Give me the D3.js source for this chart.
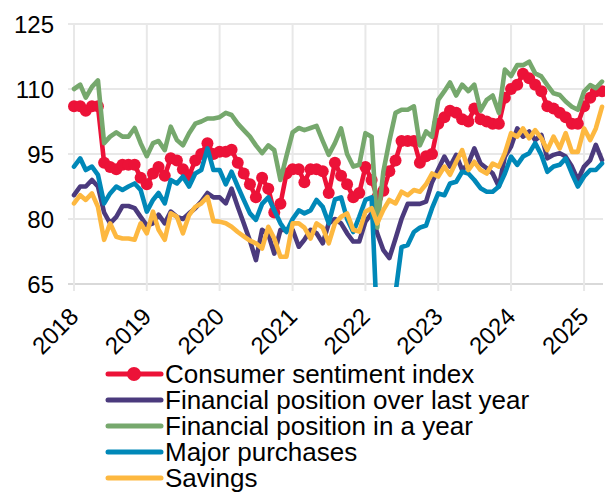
<!DOCTYPE html>
<html><head><meta charset="utf-8">
<script src="https://cdn.jsdelivr.net/npm/d3@7"></script>
<style>
body{margin:0;background:#fff}
svg text{font-family:"Liberation Sans",Arial,sans-serif;fill:#000}
</style>
</head><body>
<svg id="chart" width="605" height="492"></svg>
<script>
// Monthly data, Jan 2018 – Apr 2025
const seriesNames = ["Consumer sentiment index","Financial position over last year","Financial position in a year","Major purchases","Savings"];
const seriesColors = ["#ec1238","#4b3a7d","#76a86d","#0088b8","#fdb840"];
const csi = [106,106,105,106,106,93,92,91.5,92.5,92.5,92.5,89.5,
  88,90.5,92,90,94,93.5,91.5,90,93.5,95,97.5,95,
  95.5,95.5,96,93,90.5,88,85,89.5,87,81.5,83.5,90.5,
  91.5,91.5,88.5,91.5,91.5,91,86,93,90,88,85,86,
  92,89,85,86.5,91,93.5,98,98,98,93,94.5,95,
  102,103.5,105,104.5,103,102.5,105.5,103,102.5,102,102,108,
  110,111,113.5,112.5,111,109.5,106,105.5,104.5,103.5,102,102,
  106,108,109.5,109.5];
const finLast = [85.5,87.5,87.5,89,87.5,81.5,79,80.5,83,83,82.5,80.5,
  78.5,79,81,79,81.7,80.5,80,81.3,82.5,84,86,85,
  85,83.6,87,82.8,79,75,70.5,77.5,76.5,72,77.5,77.5,
  77.5,73.6,75.2,77.5,76.7,74.4,79,80,79,76.7,74.8,74.8,
  79.4,81.3,76.7,72.8,71,75.5,80,83.5,83.5,83.5,84,88.5,
  91.5,94.4,92.1,94.8,91.3,92.8,96.3,92.8,91.7,90.5,87.5,94.4,
  96.7,100.9,99,100.2,98.2,99.4,94,94.8,95.2,94.4,92.1,89,
  92.1,93.6,97.1,93.6];
const finNext = [110,111,108,110.5,112,97.5,99,100,99,99,101,97.5,
  94.5,97.5,98,95.9,101.3,98.2,97,99.8,102,102.5,103.2,103.2,
  103.5,104.5,104,102,100.5,99,97,95.2,97,95.9,89,94.5,
  100,101,100.5,101,101.5,98,94.8,97.5,100.9,95,92.1,92.5,
  99.8,99,78,91,98,104.5,105.2,105.2,106,97,100.2,99,
  107.5,109.5,111.5,108.5,111,109.5,111,105,107.5,108.5,104.5,114.5,
  113,115.5,115.5,116.3,113.6,112.9,110.9,109,108.6,107.1,105.9,105.2,
  109.4,110.9,110.2,111.7];
const majorPurch = [92.1,94,91.3,92.1,90.2,83.6,85.9,87.5,86.7,87.5,88.2,86.7,
  81.7,84.4,86,83.6,89,88.2,89.8,87.5,90.5,91.3,96.3,91.3,
  91.3,88,90.9,87.5,84.4,81.3,79.8,83.5,85,82,79,77,
  80,82,81.3,82,84.4,82.8,79,84.5,85,80,77,80.5,
  84.4,85,55,52,56,63,73.5,74,77,78,78.5,82.5,
  85.9,85.5,88.2,88.6,90.9,90.5,89,87.1,86.3,86.3,87.5,90.5,
  94.4,92.5,94.4,95.2,97.5,94.8,90.9,92.1,92.5,94,90.5,87.5,
  89.8,91.3,91.3,92.8];
const savings = [83.6,85.5,84.4,85.9,82.8,75.2,79,75.9,75.5,75.5,75.2,79,
  76.7,81.7,77.5,75.2,81.3,80.5,76.7,80.9,82.8,83.6,85.1,79.5,
  79.4,79,78.2,77,76,75,74.4,73.2,78.2,75.5,71.3,71.3,
  79,79,78,75.5,79,78,74.4,79,80.5,81.3,77.5,77.1,
  81.7,82.5,79,82.1,84.4,83.6,86.3,85.5,86.7,86.3,88,90.5,
  89.8,92.1,90.2,93.2,95.9,91.3,93.2,91.3,90.5,92.8,92.1,95.2,
  99.8,99,100.9,98.6,100.5,98.6,95.9,99,96.3,99.8,95.5,95.5,
  100.9,98.2,100.9,105.9];
const yTicks = [65,80,95,110,125];
const xTickYears = [2018,2019,2020,2021,2022,2023,2024,2025];

const allSeries = [csi, finLast, finNext, majorPurch, savings];
const dates = csi.map((d,i)=>new Date(2018, i, 1));

const svg = d3.select("#chart");
const x = d3.scaleTime().domain([new Date(2018,0,1), new Date(2025,3,1)]).range([74,602]);
const y = d3.scaleLinear().domain([65,125]).range([284,24]);

// grid
const grid = svg.append("g");
grid.selectAll("line.h").data(yTicks).join("line")
  .attr("x1",68).attr("x2",603).attr("y1",d=>y(d)).attr("y2",d=>y(d))
  .attr("stroke",d=>d===65?"#d9d9d9":"#e8e8e8").attr("stroke-width",2);
grid.selectAll("line.v").data(xTickYears).join("line")
  .attr("x1",d=>x(new Date(d,0,1))).attr("x2",d=>x(new Date(d,0,1)))
  .attr("y1",24).attr("y2",291)
  .attr("stroke","#e8e8e8").attr("stroke-width",2);

// y labels
svg.append("g").selectAll("text").data(yTicks).join("text")
  .attr("x",54).attr("y",d=>y(d)).attr("dy","0.36em")
  .attr("text-anchor","end").style("font-size","24px").text(d=>d);

// x labels
svg.append("g").selectAll("text").data(xTickYears).join("text")
  .attr("transform",d=>`translate(${x(new Date(d,0,1))+6},${318}) rotate(-45)`)
  .attr("text-anchor","end").style("font-size","24px").text(d=>d);

// clip
svg.append("defs").append("clipPath").attr("id","plot")
  .append("rect").attr("x",60).attr("y",0).attr("width",560).attr("height",287);

const line = d3.line().x((d,i)=>x(dates[i])).y(d=>y(d));
const plot = svg.append("g").attr("clip-path","url(#plot)");
allSeries.forEach((s,k)=>{
  plot.append("path").datum(s).attr("d",line).attr("fill","none")
    .attr("stroke",seriesColors[k]).attr("stroke-width",4.6)
    .attr("stroke-linejoin","round").attr("stroke-linecap","round");
  if(k===0){
    plot.append("g").selectAll("circle").data(s).join("circle")
      .attr("cx",(d,i)=>x(dates[i])).attr("cy",d=>y(d)).attr("r",6)
      .attr("fill",seriesColors[0]);
  }
});

// legend
const lg = svg.append("g");
seriesNames.forEach((n,k)=>{
  const yy = 374 + k*26;
  lg.append("line").attr("x1",108).attr("x2",161).attr("y1",yy).attr("y2",yy)
    .attr("stroke",seriesColors[k]).attr("stroke-width",5).attr("stroke-linecap","round");
  if(k===0) lg.append("circle").attr("cx",134).attr("cy",yy).attr("r",7).attr("fill",seriesColors[0]);
  lg.append("text").attr("x",165).attr("y",yy).attr("dy","0.36em")
    .style("font-size","26px").text(n);
});
</script>
</body></html>
